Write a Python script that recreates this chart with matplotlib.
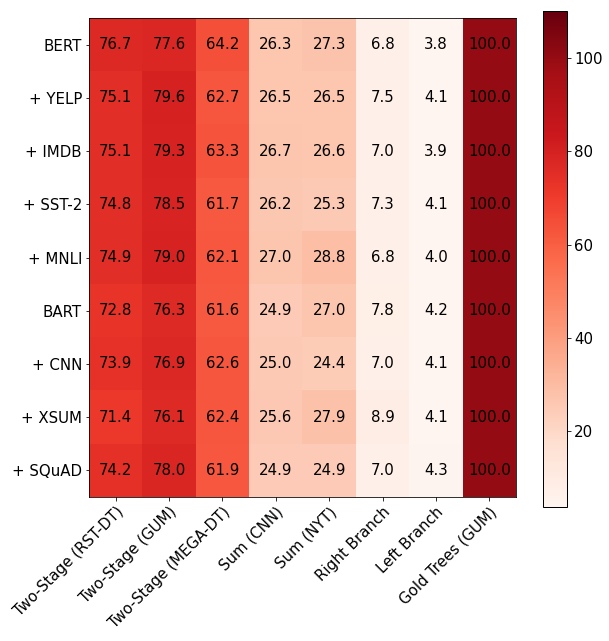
import matplotlib
matplotlib.use("Agg")
import matplotlib.pyplot as plt
import numpy as np

rows = ["BERT", "+ YELP", "+ IMDB", "+ SST-2", "+ MNLI", "BART", "+ CNN", "+ XSUM", "+ SQuAD"]
cols = ["Two-Stage (RST-DT)", "Two-Stage (GUM)", "Two-Stage (MEGA-DT)", "Sum (CNN)",
        "Sum (NYT)", "Right Branch", "Left Branch", "Gold Trees (GUM)"]

bert = [76.7, 77.6, 64.2, 26.3, 27.3, 6.8, 3.8, 100.0]
yelp = [75.1, 79.6, 62.7, 26.5, 26.5, 7.5, 4.1, 100.0]
imdb = [75.1, 79.3, 63.3, 26.7, 26.6, 7.0, 3.9, 100.0]
sst2 = [74.8, 78.5, 61.7, 26.2, 25.3, 7.3, 4.1, 100.0]
mnli = [74.9, 79.0, 62.1, 27.0, 28.8, 6.8, 4.0, 100.0]
bart = [72.8, 76.3, 61.6, 24.9, 27.0, 7.8, 4.2, 100.0]
cnn = [73.9, 76.9, 62.6, 25.0, 24.4, 7.0, 4.1, 100.0]
xsum = [71.4, 76.1, 62.4, 25.6, 27.9, 8.9, 4.1, 100.0]
squad = [74.2, 78.0, 61.9, 24.9, 24.9, 7.0, 4.3, 100.0]

data = np.array([bert, yelp, imdb, sst2, mnli, bart, cnn, xsum, squad])

DPI = 72
fig = plt.figure(figsize=(609 / DPI, 641 / DPI), dpi=DPI)
W, H = 609, 641
ax = fig.add_axes([89 / W, (H - 497) / H, 427 / W, 479 / H])
cax = fig.add_axes([543 / W, (H - 507) / H, 24 / W, 496 / H])

im = ax.imshow(data, cmap="Reds", vmin=data.min(), vmax=110, aspect="auto")
ax.set_xticks(np.arange(len(cols)))
ax.set_yticks(np.arange(len(rows)))
ax.set_xticklabels(cols, rotation=45, ha="right", rotation_mode="anchor", fontsize=15)
ax.set_yticklabels(rows, fontsize=15)
for i in range(data.shape[0]):
    for j in range(data.shape[1]):
        ax.text(j, i, f"{data[i, j]:.1f}", ha="center", va="center", color="black", fontsize=15)

cb = fig.colorbar(im, cax=cax)
cb.set_ticks([20, 40, 60, 80, 100])
cb.ax.tick_params(labelsize=15)
cb.outline.set_linewidth(1)

fig.savefig("out.png", dpi=DPI)
